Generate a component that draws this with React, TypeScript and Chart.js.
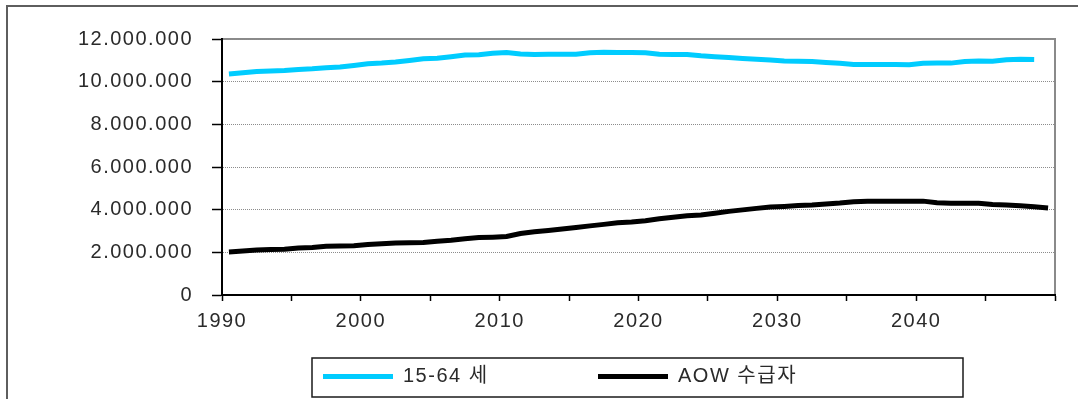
import React, { useEffect, useRef } from "react";
import { Chart, registerables } from "chart.js";

Chart.register(...registerables);

// Calendar years for the projection (values are plotted at mid-year)
const years = [
  1990, 1991, 1992, 1993, 1994, 1995, 1996, 1997, 1998, 1999,
  2000, 2001, 2002, 2003, 2004, 2005, 2006, 2007, 2008, 2009,
  2010, 2011, 2012, 2013, 2014, 2015, 2016, 2017, 2018, 2019,
  2020, 2021, 2022, 2023, 2024, 2025, 2026, 2027, 2028, 2029,
  2030, 2031, 2032, 2033, 2034, 2035, 2036, 2037, 2038, 2039,
  2040, 2041, 2042, 2043, 2044, 2045, 2046, 2047, 2048, 2049,
];

// Working-age population, 15-64 (1990-2048)
const workingAge = [
  10360000, 10420000, 10480000, 10500000, 10520000, 10570000, 10600000, 10650000, 10690000, 10760000,
  10840000, 10870000, 10920000, 10990000, 11070000, 11100000, 11170000, 11250000, 11260000, 11330000,
  11370000, 11300000, 11270000, 11280000, 11290000, 11280000, 11350000, 11380000, 11370000, 11370000,
  11360000, 11290000, 11270000, 11270000, 11210000, 11170000, 11130000, 11090000, 11050000, 11010000,
  10970000, 10960000, 10940000, 10900000, 10860000, 10810000, 10800000, 10800000, 10800000, 10790000,
  10860000, 10880000, 10870000, 10950000, 10970000, 10960000, 11030000, 11050000, 11040000,
];

// AOW (state pension) recipients (1990-2049)
const aowRecipients = [
  2020000, 2060000, 2110000, 2130000, 2140000, 2200000, 2230000, 2280000, 2300000, 2310000,
  2370000, 2400000, 2440000, 2450000, 2460000, 2520000, 2570000, 2640000, 2690000, 2710000,
  2740000, 2880000, 2960000, 3020000, 3090000, 3160000, 3240000, 3310000, 3390000, 3420000,
  3480000, 3570000, 3640000, 3710000, 3750000, 3830000, 3920000, 3990000, 4060000, 4120000,
  4150000, 4190000, 4220000, 4270000, 4310000, 4370000, 4400000, 4400000, 4400000, 4400000,
  4400000, 4320000, 4300000, 4300000, 4300000, 4240000, 4220000, 4180000, 4140000, 4080000,
];

const seriesLabels = ["15-64 세", "AOW 수급자"];
const seriesColors = ["#00CCFF", "#000000"];

const xMin = 1990;
const xMax = 2050;
const yMax = 12000000;

const FONT = "'Liberation Sans', Arial, 'Noto Sans CJK KR', sans-serif";
const TEXT_COLOR = "#2a2a2a";

const toPoints = (values: number[]) =>
  values.map((v, i) => ({ x: years[i] + 0.5, y: v }));

const formatThousands = (v: number) =>
  String(Math.round(v)).replace(/\B(?=(\d{3})+(?!\d))/g, ".");

// Background, outer panel edge, plot frame and the boxed legend
const decorPlugin = {
  id: "decor",
  beforeDraw(chart: any) {
    const { ctx, chartArea: a, width, height } = chart;
    // wide-set lettering for every label drawn afterwards
    (ctx as any).letterSpacing = "1.5px";
    ctx.save();
    ctx.fillStyle = "#ffffff";
    ctx.fillRect(0, 0, width, height);

    ctx.strokeStyle = "#5e5e5e";
    ctx.lineWidth = 2;
    ctx.beginPath();
    ctx.moveTo(7, height);
    ctx.lineTo(7, 6);
    ctx.lineTo(width, 6);
    ctx.stroke();

    ctx.strokeStyle = "#8a8a8a";
    ctx.lineWidth = 2;
    ctx.strokeRect(a.left, a.top, a.right - a.left, a.bottom - a.top);
    ctx.restore();
  },
  afterDraw(chart: any) {
    const { ctx } = chart;
    const box = { x: 312, y: 358, w: 651, h: 39 };
    const items = [323, 598];
    const sample = 70;
    const midY = box.y + box.h / 2 - 1;
    ctx.save();
    ctx.strokeStyle = "#1a1a1a";
    ctx.lineWidth = 1.5;
    ctx.strokeRect(box.x, box.y, box.w, box.h);
    ctx.font = `20px ${FONT}`;
    ctx.textBaseline = "middle";
    ctx.textAlign = "left";
    chart.data.datasets.forEach((ds: any, i: number) => {
      const x0 = items[i];
      ctx.strokeStyle = ds.borderColor;
      ctx.lineWidth = 5;
      ctx.beginPath();
      ctx.moveTo(x0, midY);
      ctx.lineTo(x0 + sample, midY);
      ctx.stroke();
      ctx.fillStyle = TEXT_COLOR;
      ctx.fillText(ds.label, x0 + sample + 10, midY);
    });
    ctx.restore();
  },
};

export default function App() {
  const canvasRef = useRef<HTMLCanvasElement | null>(null);

  useEffect(() => {
    const canvas = canvasRef.current;
    if (!canvas) return;
    const chart = new Chart(canvas, {
      type: "line",
      data: {
        datasets: [
          {
            label: seriesLabels[0],
            data: toPoints(workingAge),
            borderColor: seriesColors[0],
            backgroundColor: seriesColors[0],
            borderWidth: 5,
            pointRadius: 0,
            tension: 0,
            fill: false,
          },
          {
            label: seriesLabels[1],
            data: toPoints(aowRecipients),
            borderColor: seriesColors[1],
            backgroundColor: seriesColors[1],
            borderWidth: 5,
            pointRadius: 0,
            tension: 0,
            fill: false,
          },
        ],
      },
      options: {
        animation: false,
        responsive: false,
        devicePixelRatio: 1,
        layout: { padding: { left: 0, top: 39, right: 23, bottom: 0 } },
        plugins: {
          legend: { display: false },
          tooltip: { enabled: false },
          title: { display: false },
        },
        scales: {
          x: {
            type: "linear",
            min: xMin,
            max: xMax,
            afterFit: (scale: any) => {
              scale.height = 104;
            },
            ticks: {
              stepSize: 5,
              autoSkip: false,
              maxRotation: 0,
              padding: 8,
              color: TEXT_COLOR,
              font: { family: FONT, size: 20 },
              callback: (v: any) =>
                Number(v) % 10 === 0 && Number(v) < xMax ? String(v) : "",
            },
            grid: {
              drawOnChartArea: false,
              drawTicks: true,
              tickLength: 6,
              tickColor: "#000000",
              tickWidth: 1.5,
            },
            border: { display: true, color: "#000000", width: 2 },
          },
          y: {
            min: 0,
            max: yMax,
            afterFit: (scale: any) => {
              scale.width = 222;
            },
            ticks: {
              stepSize: 2000000,
              padding: 19,
              color: TEXT_COLOR,
              font: { family: FONT, size: 20 },
              callback: (v: any) => formatThousands(Number(v)),
            },
            grid: {
              drawOnChartArea: true,
              color: "#8c8c8c",
              lineWidth: 1,
              tickLength: 10,
              tickColor: "#000000",
              tickWidth: 1.5,
              tickBorderDash: [],
            },
            border: { display: true, color: "#000000", width: 2, dash: [1, 1] },
          },
        },
      },
      plugins: [decorPlugin],
    } as any);
    return () => chart.destroy();
  }, []);

  return (
    <div style={{ position: "absolute", left: 0, top: 0, width: 1078, height: 399 }}>
      <canvas ref={canvasRef} width={1078} height={399} />
    </div>
  );
}
